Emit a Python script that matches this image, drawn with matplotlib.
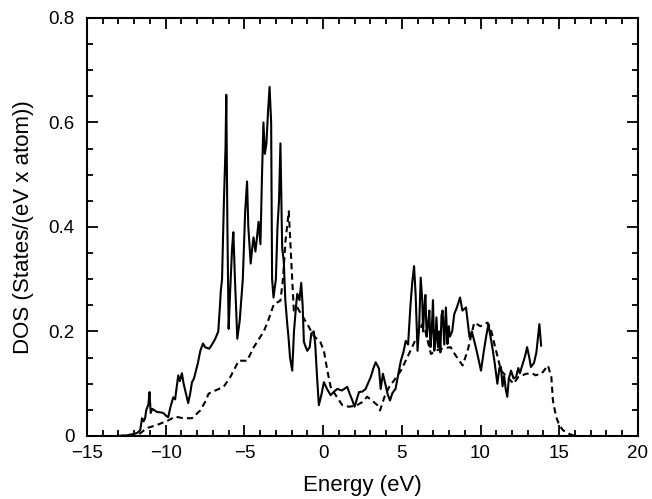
import matplotlib
matplotlib.use("Agg")
import matplotlib.pyplot as plt
from matplotlib.ticker import MultipleLocator

plt.rcParams['font.family'] = ['Liberation Sans', 'DejaVu Sans']

solid_E = [-13.0, -12.5, -12.0, -11.8, -11.62, -11.5, -11.4, -11.3, -11.24, -11.1, -11.03, -10.95, -10.85,
           -10.56, -10.3, -10.15, -9.95, -9.84, -9.7, -9.52, -9.4, -9.33, -9.2, -9.1, -8.97, -8.86, -8.76,
           -8.57, -8.45, -8.33, -8.2, -8.12, -7.95, -7.8, -7.63, -7.5, -7.23, -7.0, -6.85, -6.66, -6.55, -6.5,
           -6.42, -6.3, -6.2, -6.15, -6.08, -6.0, -5.9, -5.78, -5.7, -5.6, -5.45, -5.3, -5.1, -4.95, -4.83,
           -4.75, -4.6, -4.5, -4.42, -4.3, -4.2, -4.1, -3.98, -3.88, -3.79, -3.7, -3.6, -3.5, -3.4, -3.3,
           -3.24, -3.15, -3.0, -2.9, -2.8, -2.71, -2.65, -2.6, -2.5, -2.4, -2.28, -2.2, -2.1, -1.96, -1.85,
           -1.7, -1.64, -1.5, -1.39, -1.3, -1.22, -1.1, -1.0, -0.85, -0.75, -0.59, -0.5, -0.37, -0.27, -0.1,
           0.05, 0.25, 0.48, 0.7, 0.9, 1.2, 1.53, 1.7, 1.86, 2.0, 2.28, 2.5, 2.7, 3.03, 3.2, 3.34, 3.45, 3.55,
           3.66, 3.8, 3.95, 4.1, 4.25, 4.4, 4.6, 4.94, 5.1, 5.25, 5.4, 5.55, 5.67, 5.78, 5.88, 6.0, 6.1, 6.2,
           6.3, 6.35, 6.42, 6.5, 6.58, 6.65, 6.75, 6.82, 6.9, 6.98, 7.06, 7.13, 7.2, 7.3, 7.38, 7.45, 7.52,
           7.59, 7.7, 7.8, 7.9, 7.98, 8.05, 8.2, 8.33, 8.5, 8.7, 8.85, 9.08, 9.3, 9.45, 9.7, 9.85, 10.03,
           10.2, 10.35, 10.5, 10.75, 10.9, 11.07, 11.2, 11.3, 11.4, 11.5, 11.6, 11.7, 11.8, 11.94, 12.1, 12.26,
           12.4, 12.5, 12.7, 12.85, 12.96, 13.1, 13.2, 13.4, 13.55, 13.74, 13.85]
solid_dos = [0.0, 0.001, 0.004, 0.006, 0.011, 0.034, 0.028, 0.035, 0.049, 0.06, 0.084, 0.044, 0.052,
             0.046, 0.045, 0.044, 0.038, 0.036, 0.055, 0.074, 0.07, 0.087, 0.116, 0.105, 0.12, 0.1, 0.087,
             0.063, 0.08, 0.103, 0.11, 0.12, 0.14, 0.163, 0.177, 0.17, 0.167, 0.178, 0.186, 0.2, 0.25, 0.277,
             0.3, 0.45, 0.55, 0.653, 0.4, 0.205, 0.28, 0.36, 0.39, 0.3, 0.186, 0.22, 0.3, 0.43, 0.487,
             0.4, 0.33, 0.36, 0.38, 0.353, 0.38, 0.41, 0.367, 0.5, 0.6, 0.54, 0.56, 0.62, 0.668, 0.6,
             0.3, 0.265, 0.3, 0.398, 0.45, 0.56, 0.45, 0.36, 0.335, 0.26, 0.215, 0.19, 0.15, 0.125, 0.2,
             0.255, 0.272, 0.26, 0.293, 0.25, 0.18, 0.17, 0.163, 0.17, 0.196, 0.2, 0.175, 0.106, 0.059, 0.08,
             0.103, 0.09, 0.078, 0.085, 0.09, 0.087, 0.094, 0.08, 0.068, 0.056, 0.084, 0.085, 0.09, 0.113, 0.13,
             0.141, 0.135, 0.129, 0.09, 0.119, 0.1, 0.08, 0.068, 0.082, 0.09, 0.144, 0.16, 0.182, 0.175, 0.25,
             0.296, 0.325, 0.27, 0.163, 0.208, 0.303, 0.26, 0.2, 0.24, 0.27, 0.19, 0.208, 0.24, 0.17, 0.2,
             0.26, 0.163, 0.18, 0.227, 0.17, 0.2, 0.16, 0.23, 0.24, 0.175, 0.246, 0.176, 0.21, 0.19, 0.2,
             0.233, 0.246, 0.265, 0.24, 0.246, 0.189, 0.2, 0.17, 0.15, 0.125, 0.16, 0.189, 0.214, 0.17, 0.14,
             0.1, 0.13, 0.132, 0.095, 0.115, 0.09, 0.075, 0.11, 0.125, 0.11, 0.113, 0.13, 0.12, 0.14, 0.155,
             0.17, 0.15, 0.132, 0.14, 0.16, 0.214, 0.173]

dashed_E = [-13.0, -12.5, -12.0, -11.62, -11.2, -10.56, -9.82, -9.4, -8.87, -8.33, -7.8, -7.5, -7.27, -6.85,
            -6.32, -5.89, -5.36, -4.83, -4.4, -3.77, -3.5, -3.13, -2.71, -2.55, -2.39, -2.18, -2.0, -1.86,
            -1.64, -1.39, -1.0, -0.6, -0.16, 0.05, 0.27, 0.48, 0.8, 1.22, 1.64, 2.1, 2.49, 2.8, 3.1, 3.45,
            3.62, 3.9, 4.2, 4.5, 4.94, 5.36, 5.9, 6.3, 6.5, 6.85, 7.3, 7.7, 8.1, 8.4, 8.65, 8.86, 9.18, 9.6,
            10.0, 10.45, 10.65, 10.88, 11.1, 11.3, 11.7, 12.1, 12.4, 12.9, 13.3, 13.5, 13.9, 14.28, 14.5,
            14.6, 14.8, 15.0, 15.24, 15.55, 16.0]
dashed_dos = [0.0, 0.001, 0.003, 0.005, 0.015, 0.021, 0.03, 0.037, 0.034, 0.034, 0.049, 0.065, 0.081, 0.087,
              0.094, 0.113, 0.144, 0.144, 0.17, 0.2, 0.22, 0.252, 0.259, 0.3, 0.373, 0.43, 0.322, 0.24,
              0.246, 0.233, 0.214, 0.192, 0.179, 0.163, 0.125, 0.094, 0.078, 0.059, 0.056, 0.058, 0.065, 0.075,
              0.068, 0.059, 0.049, 0.075, 0.094, 0.106, 0.125, 0.151, 0.186, 0.214, 0.2, 0.157, 0.165, 0.168,
              0.17, 0.155, 0.144, 0.135, 0.163, 0.217, 0.21, 0.217, 0.205, 0.176, 0.15, 0.125, 0.113, 0.1,
              0.113, 0.119, 0.12, 0.116, 0.12, 0.135, 0.113, 0.068, 0.037, 0.021, 0.011, 0.005, 0.0]

x_ticks = [-15, -10, -5, 0, 5, 10, 15, 20]
y_ticks = [0, 0.2, 0.4, 0.6, 0.8]
y_tick_labels = ['0', '0.2', '0.4', '0.6', '0.8']
x_tick_labels = ['\u221215', '\u221210', '\u22125', '0', '5', '10', '15', '20']

fig = plt.figure(figsize=(6.52, 4.99), dpi=100)
ax = fig.add_axes([0.1334, 0.1263, 0.845, 0.8377])

ax.plot(solid_E, solid_dos, color='black', lw=1.5)
ax.plot(dashed_E, dashed_dos, color='black', lw=1.5, linestyle=(0, (3.0, 2.0)))

ax.set_xlim(-15, 20)
ax.set_ylim(0, 0.8)
ax.set_xticks(x_ticks)
ax.set_xticklabels(x_tick_labels)
ax.set_yticks(y_ticks)
ax.set_yticklabels(y_tick_labels)
ax.xaxis.set_minor_locator(MultipleLocator(1))
ax.yaxis.set_minor_locator(MultipleLocator(0.05))
ax.tick_params(which='both', direction='in', top=True, right=True, width=1.3, labelsize=13.5)
ax.tick_params(which='major', length=8)
ax.tick_params(which='minor', length=4)
ax.tick_params(axis='x', pad=6.5)
ax.tick_params(axis='y', pad=9)
for s in ax.spines.values():
    s.set_linewidth(1.5)

ax.set_xlabel('Energy (eV)', fontsize=16, labelpad=9)
ax.set_ylabel('DOS (States/(eV x atom))', fontsize=16, labelpad=10)

fig.savefig('out.png', dpi=100)
